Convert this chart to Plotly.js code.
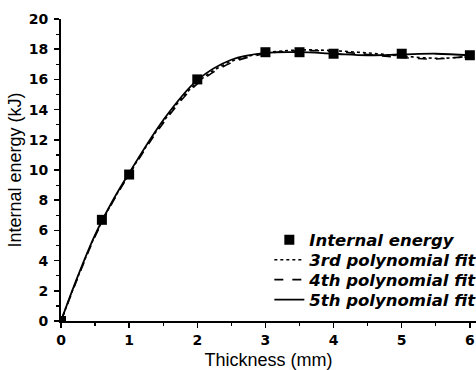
<!DOCTYPE html>
<html>
<head>
<meta charset="utf-8">
<script src="https://cdn.plot.ly/plotly-3.0.1.min.js"></script>
<style>html,body{margin:0;padding:0;background:#fff;}#chart{width:476px;height:370px;}</style>
</head>
<body>
<div id="chart"></div>
<script>
// Measured data points
const thickness = [0, 0.6, 1, 2, 3, 3.5, 4, 5, 6];
const internalEnergy = [0, 6.7, 9.7, 16.0, 17.8, 17.8, 17.7, 17.7, 17.6];

// Fit curves
const fitX = [0, 0.25, 0.5, 0.75, 1, 1.5, 2, 2.5, 3, 3.5, 4, 4.5, 5, 5.5, 6];
const fit3 = [0, 2.95, 5.65, 7.85, 9.75, 13.2, 15.8, 17.2, 17.75, 17.95, 17.9, 17.75, 17.55, 17.4, 17.5];
const fit4 = [0, 2.9, 5.6, 7.8, 9.7, 13.1, 15.7, 17.1, 17.7, 17.9, 17.85, 17.65, 17.45, 17.35, 17.55];
const fit5 = [0, 3.0, 5.7, 7.9, 9.8, 13.3, 15.95, 17.3, 17.75, 17.8, 17.7, 17.6, 17.65, 17.7, 17.6];

const seriesNames = ['Internal energy', '3rd polynomial fit', '4th polynomial fit', '5th polynomial fit'];
const xTicks = [0, 1, 2, 3, 4, 5, 6];
const yTicks = [0, 2, 4, 6, 8, 10, 12, 14, 16, 18, 20];

const traces = [
  {x: thickness, y: internalEnergy, name: seriesNames[0], mode: 'markers', type: 'scatter',
   marker: {symbol: 'square', size: 10, color: '#000'}, legend: 'legend'},
  {x: fitX, y: fit3, name: seriesNames[1], mode: 'lines', type: 'scatter',
   line: {color: '#000', width: 1.6, dash: 'dot', shape: 'spline'}, legend: 'legend2'},
  {x: fitX, y: fit4, name: seriesNames[2], mode: 'lines', type: 'scatter',
   line: {color: '#000', width: 1.6, dash: 'dash', shape: 'spline'}, legend: 'legend3'},
  {x: fitX, y: fit5, name: seriesNames[3], mode: 'lines', type: 'scatter',
   line: {color: '#000', width: 1.8, shape: 'spline'}, legend: 'legend4'}
];

const legFont = {family: 'DejaVu Sans, sans-serif', size: 16.5, color: '#000', style: 'italic', weight: 'bold'};
function leg(y) {
  return {x: 0.502, y: y, xanchor: 'left', yanchor: 'middle', bgcolor: 'rgba(0,0,0,0)',
          borderwidth: 0, font: legFont, itemwidth: 30};
}

const layout = {
  width: 476, height: 370,
  margin: {l: 61, r: 0, t: 19, b: 49, autoexpand: false},
  paper_bgcolor: '#fff', plot_bgcolor: '#fff',
  showlegend: true,
  legend: leg(0.268), legend2: leg(0.202), legend3: leg(0.136), legend4: leg(0.07),
  xaxis: {
    range: [0, 6.09], tickvals: xTicks, ticktext: xTicks.map(String),
    showline: true, linecolor: '#000', linewidth: 2, showgrid: false, zeroline: false,
    ticks: 'outside', ticklen: 5, tickwidth: 1.5, tickcolor: '#000',
    minor: {dtick: 0.5, tick0: 0, ticks: 'outside', ticklen: 3, tickwidth: 1.2, tickcolor: '#000'},
    tickfont: {family: 'DejaVu Sans, sans-serif', size: 14, color: '#000', weight: 'bold'},
    title: {text: 'Thickness (mm)', font: {family: 'Liberation Sans, Arial, sans-serif', size: 18, color: '#000'}, standoff: 7},
    automargin: false
  },
  yaxis: {
    range: [0, 20], tickvals: yTicks, ticktext: yTicks.map(String),
    showline: true, linecolor: '#000', linewidth: 2, showgrid: false, zeroline: false,
    ticks: 'outside', ticklen: 5, tickwidth: 1.5, tickcolor: '#000',
    minor: {dtick: 1, tick0: 0, ticks: 'outside', ticklen: 3, tickwidth: 1.2, tickcolor: '#000'},
    tickfont: {family: 'DejaVu Sans, sans-serif', size: 14, color: '#000', weight: 'bold'},
    ticklabelstandoff: 3,
    title: {text: 'Internal energy (kJ)', font: {family: 'Liberation Sans, Arial, sans-serif', size: 18, color: '#000'}, standoff: 2},
    automargin: false
  }
};

Plotly.newPlot('chart', traces, layout, {staticPlot: true, displayModeBar: false});
</script>
</body>
</html>
